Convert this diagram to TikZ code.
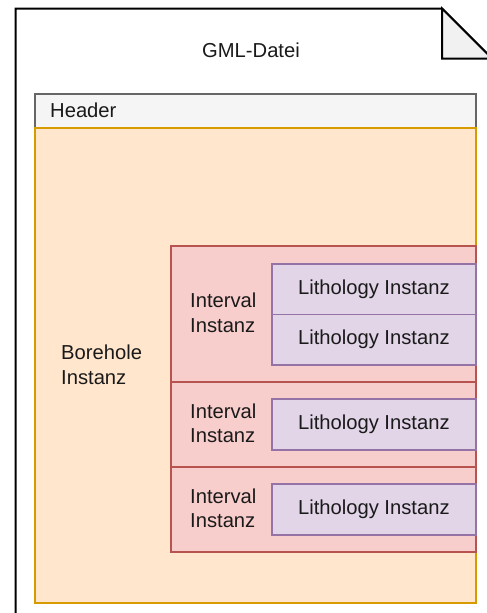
\documentclass[tikz,border=0pt]{standalone}
\usepackage{fontspec}
\setmainfont{Liberation Sans}
\definecolor{hdrfill}{HTML}{F5F5F5}
\definecolor{hdrline}{HTML}{666666}
\definecolor{bhfill}{HTML}{FFE6CC}
\definecolor{bhline}{HTML}{D79B00}
\definecolor{ivfill}{HTML}{F8CECC}
\definecolor{ivline}{HTML}{B85450}
\definecolor{lifill}{HTML}{E1D5E7}
\definecolor{liline}{HTML}{9673A6}
\definecolor{txt}{HTML}{1A1A1A}
\definecolor{foldfill}{HTML}{F1F1F1}
\begin{document}
\begin{tikzpicture}[x=1pt,y=1pt,
  box/.style={rectangle, line width=1.7pt, anchor=north west, inner sep=0pt},
  hdrbox/.style={box, fill=hdrfill, draw=hdrline},
  bhbox/.style={box, fill=bhfill, draw=bhline},
  ivbox/.style={box, fill=ivfill, draw=ivline},
  libox/.style={box, fill=lifill, draw=liline},
  lbl/.style={text=txt, font=\fontsize{20.2}{24.5}\selectfont, inner sep=0pt},
  lbll/.style={lbl, align=left, anchor=west}]
\useasboundingbox (0,0) rectangle (487,-613);
\clip (0,0) rectangle (487,-613);
% document (note shape)
\draw[line width=2pt, fill=white] (15.5,-620) -- (15.5,-8.5) -- (442,-8.5) -- (492,-58.5) -- (492,-620);
\draw[line width=2pt, fill=foldfill] (442,-8.5) -- (442,-58.5) -- (492,-58.5) -- cycle;
\node[lbl] (title) at (251,-50) {GML-Datei};
% header
\node[hdrbox, minimum width=441, minimum height=34] (header) at (34,-93) {};
\node[lbll] (headertxt) at (50,-110) {Header};
% borehole
\node[bhbox, minimum width=441, minimum height=475] (borehole) at (34,-127) {};
\node[lbll] (boreholetxt) at (61,-365) {Borehole\\Instanz};
% intervals
\node[ivbox, minimum width=305, minimum height=136] (iv1) at (170,-245) {};
\node[ivbox, minimum width=305, minimum height=85] (iv2) at (170,-381) {};
\node[ivbox, minimum width=305, minimum height=85] (iv3) at (170,-466) {};
\node[lbll] (iv1txt) at (190,-313) {Interval\\Instanz};
\node[lbll] (iv2txt) at (190,-423.5) {Interval\\Instanz};
\node[lbll] (iv3txt) at (190,-508.5) {Interval\\Instanz};
% lithologies
\node[libox, minimum width=204, minimum height=50.5] (li1) at (271,-263) {};
\node[libox, minimum width=204, minimum height=50.5] (li2) at (271,-313.5) {};
\node[libox, minimum width=204, minimum height=51] (li3) at (271,-398) {};
\node[libox, minimum width=204, minimum height=51] (li4) at (271,-483) {};
\node[lbl] at (li1.center) {Lithology Instanz};
\node[lbl] at (li2.center) {Lithology Instanz};
\node[lbl] at (li3.center) {Lithology Instanz};
\node[lbl] at (li4.center) {Lithology Instanz};
\end{tikzpicture}
\end{document}
